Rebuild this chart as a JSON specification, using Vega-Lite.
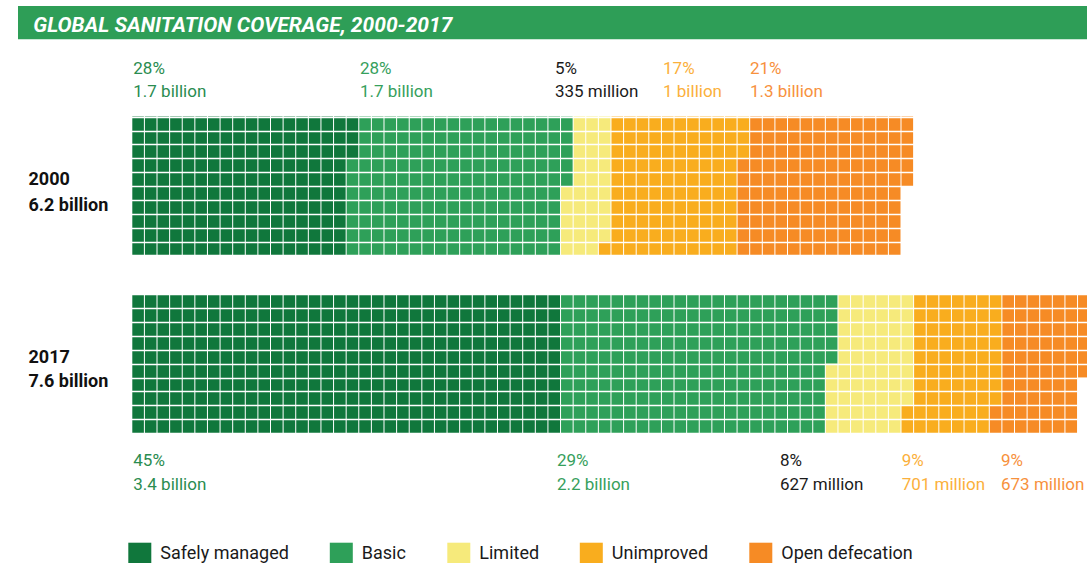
{
  "$schema": "https://vega.github.io/schema/vega-lite/v6.json",
  "background": "white",
  "padding": {"left": 18, "top": 6, "right": 0, "bottom": 0},
  "spacing": 10,
  "config": {"view": {"stroke": null}, "font": "Roboto"},
  "resolve": {"scale": {"x": "independent", "y": "independent"}},
  "datasets": {
    "cells": [
      {"year": "2000", "col": 0, "type": "Safely managed", "r0": 0, "r1": 10},
      {"year": "2000", "col": 1, "type": "Safely managed", "r0": 0, "r1": 10},
      {"year": "2000", "col": 2, "type": "Safely managed", "r0": 0, "r1": 10},
      {"year": "2000", "col": 3, "type": "Safely managed", "r0": 0, "r1": 10},
      {"year": "2000", "col": 4, "type": "Safely managed", "r0": 0, "r1": 10},
      {"year": "2000", "col": 5, "type": "Safely managed", "r0": 0, "r1": 10},
      {"year": "2000", "col": 6, "type": "Safely managed", "r0": 0, "r1": 10},
      {"year": "2000", "col": 7, "type": "Safely managed", "r0": 0, "r1": 10},
      {"year": "2000", "col": 8, "type": "Safely managed", "r0": 0, "r1": 10},
      {"year": "2000", "col": 9, "type": "Safely managed", "r0": 0, "r1": 10},
      {"year": "2000", "col": 10, "type": "Safely managed", "r0": 0, "r1": 10},
      {"year": "2000", "col": 11, "type": "Safely managed", "r0": 0, "r1": 10},
      {"year": "2000", "col": 12, "type": "Safely managed", "r0": 0, "r1": 10},
      {"year": "2000", "col": 13, "type": "Safely managed", "r0": 0, "r1": 10},
      {"year": "2000", "col": 14, "type": "Safely managed", "r0": 0, "r1": 10},
      {"year": "2000", "col": 15, "type": "Safely managed", "r0": 0, "r1": 10},
      {"year": "2000", "col": 16, "type": "Safely managed", "r0": 0, "r1": 10},
      {"year": "2000", "col": 17, "type": "Safely managed", "r0": 0, "r1": 3},
      {"year": "2000", "col": 17, "type": "Basic", "r0": 3, "r1": 10},
      {"year": "2000", "col": 18, "type": "Basic", "r0": 0, "r1": 10},
      {"year": "2000", "col": 19, "type": "Basic", "r0": 0, "r1": 10},
      {"year": "2000", "col": 20, "type": "Basic", "r0": 0, "r1": 10},
      {"year": "2000", "col": 21, "type": "Basic", "r0": 0, "r1": 10},
      {"year": "2000", "col": 22, "type": "Basic", "r0": 0, "r1": 10},
      {"year": "2000", "col": 23, "type": "Basic", "r0": 0, "r1": 10},
      {"year": "2000", "col": 24, "type": "Basic", "r0": 0, "r1": 10},
      {"year": "2000", "col": 25, "type": "Basic", "r0": 0, "r1": 10},
      {"year": "2000", "col": 26, "type": "Basic", "r0": 0, "r1": 10},
      {"year": "2000", "col": 27, "type": "Basic", "r0": 0, "r1": 10},
      {"year": "2000", "col": 28, "type": "Basic", "r0": 0, "r1": 10},
      {"year": "2000", "col": 29, "type": "Basic", "r0": 0, "r1": 10},
      {"year": "2000", "col": 30, "type": "Basic", "r0": 0, "r1": 10},
      {"year": "2000", "col": 31, "type": "Basic", "r0": 0, "r1": 10},
      {"year": "2000", "col": 32, "type": "Basic", "r0": 0, "r1": 10},
      {"year": "2000", "col": 33, "type": "Basic", "r0": 0, "r1": 10},
      {"year": "2000", "col": 34, "type": "Basic", "r0": 0, "r1": 5},
      {"year": "2000", "col": 34, "type": "Limited", "r0": 5, "r1": 10},
      {"year": "2000", "col": 35, "type": "Limited", "r0": 0, "r1": 10},
      {"year": "2000", "col": 36, "type": "Limited", "r0": 0, "r1": 10},
      {"year": "2000", "col": 37, "type": "Limited", "r0": 0, "r1": 9},
      {"year": "2000", "col": 37, "type": "Unimproved", "r0": 9, "r1": 10},
      {"year": "2000", "col": 38, "type": "Unimproved", "r0": 0, "r1": 10},
      {"year": "2000", "col": 39, "type": "Unimproved", "r0": 0, "r1": 10},
      {"year": "2000", "col": 40, "type": "Unimproved", "r0": 0, "r1": 10},
      {"year": "2000", "col": 41, "type": "Unimproved", "r0": 0, "r1": 10},
      {"year": "2000", "col": 42, "type": "Unimproved", "r0": 0, "r1": 10},
      {"year": "2000", "col": 43, "type": "Unimproved", "r0": 0, "r1": 10},
      {"year": "2000", "col": 44, "type": "Unimproved", "r0": 0, "r1": 10},
      {"year": "2000", "col": 45, "type": "Unimproved", "r0": 0, "r1": 10},
      {"year": "2000", "col": 46, "type": "Unimproved", "r0": 0, "r1": 10},
      {"year": "2000", "col": 47, "type": "Unimproved", "r0": 0, "r1": 10},
      {"year": "2000", "col": 48, "type": "Unimproved", "r0": 0, "r1": 3},
      {"year": "2000", "col": 48, "type": "Open defecation", "r0": 3, "r1": 10},
      {"year": "2000", "col": 49, "type": "Open defecation", "r0": 0, "r1": 10},
      {"year": "2000", "col": 50, "type": "Open defecation", "r0": 0, "r1": 10},
      {"year": "2000", "col": 51, "type": "Open defecation", "r0": 0, "r1": 10},
      {"year": "2000", "col": 52, "type": "Open defecation", "r0": 0, "r1": 10},
      {"year": "2000", "col": 53, "type": "Open defecation", "r0": 0, "r1": 10},
      {"year": "2000", "col": 54, "type": "Open defecation", "r0": 0, "r1": 10},
      {"year": "2000", "col": 55, "type": "Open defecation", "r0": 0, "r1": 10},
      {"year": "2000", "col": 56, "type": "Open defecation", "r0": 0, "r1": 10},
      {"year": "2000", "col": 57, "type": "Open defecation", "r0": 0, "r1": 10},
      {"year": "2000", "col": 58, "type": "Open defecation", "r0": 0, "r1": 10},
      {"year": "2000", "col": 59, "type": "Open defecation", "r0": 0, "r1": 10},
      {"year": "2000", "col": 60, "type": "Open defecation", "r0": 0, "r1": 10},
      {"year": "2000", "col": 61, "type": "Open defecation", "r0": 0, "r1": 5},
      {"year": "2017", "col": 0, "type": "Safely managed", "r0": 0, "r1": 10},
      {"year": "2017", "col": 1, "type": "Safely managed", "r0": 0, "r1": 10},
      {"year": "2017", "col": 2, "type": "Safely managed", "r0": 0, "r1": 10},
      {"year": "2017", "col": 3, "type": "Safely managed", "r0": 0, "r1": 10},
      {"year": "2017", "col": 4, "type": "Safely managed", "r0": 0, "r1": 10},
      {"year": "2017", "col": 5, "type": "Safely managed", "r0": 0, "r1": 10},
      {"year": "2017", "col": 6, "type": "Safely managed", "r0": 0, "r1": 10},
      {"year": "2017", "col": 7, "type": "Safely managed", "r0": 0, "r1": 10},
      {"year": "2017", "col": 8, "type": "Safely managed", "r0": 0, "r1": 10},
      {"year": "2017", "col": 9, "type": "Safely managed", "r0": 0, "r1": 10},
      {"year": "2017", "col": 10, "type": "Safely managed", "r0": 0, "r1": 10},
      {"year": "2017", "col": 11, "type": "Safely managed", "r0": 0, "r1": 10},
      {"year": "2017", "col": 12, "type": "Safely managed", "r0": 0, "r1": 10},
      {"year": "2017", "col": 13, "type": "Safely managed", "r0": 0, "r1": 10},
      {"year": "2017", "col": 14, "type": "Safely managed", "r0": 0, "r1": 10},
      {"year": "2017", "col": 15, "type": "Safely managed", "r0": 0, "r1": 10},
      {"year": "2017", "col": 16, "type": "Safely managed", "r0": 0, "r1": 10},
      {"year": "2017", "col": 17, "type": "Safely managed", "r0": 0, "r1": 10},
      {"year": "2017", "col": 18, "type": "Safely managed", "r0": 0, "r1": 10},
      {"year": "2017", "col": 19, "type": "Safely managed", "r0": 0, "r1": 10},
      {"year": "2017", "col": 20, "type": "Safely managed", "r0": 0, "r1": 10},
      {"year": "2017", "col": 21, "type": "Safely managed", "r0": 0, "r1": 10},
      {"year": "2017", "col": 22, "type": "Safely managed", "r0": 0, "r1": 10},
      {"year": "2017", "col": 23, "type": "Safely managed", "r0": 0, "r1": 10},
      {"year": "2017", "col": 24, "type": "Safely managed", "r0": 0, "r1": 10},
      {"year": "2017", "col": 25, "type": "Safely managed", "r0": 0, "r1": 10},
      {"year": "2017", "col": 26, "type": "Safely managed", "r0": 0, "r1": 10},
      {"year": "2017", "col": 27, "type": "Safely managed", "r0": 0, "r1": 10},
      {"year": "2017", "col": 28, "type": "Safely managed", "r0": 0, "r1": 10},
      {"year": "2017", "col": 29, "type": "Safely managed", "r0": 0, "r1": 10},
      {"year": "2017", "col": 30, "type": "Safely managed", "r0": 0, "r1": 10},
      {"year": "2017", "col": 31, "type": "Safely managed", "r0": 0, "r1": 10},
      {"year": "2017", "col": 32, "type": "Safely managed", "r0": 0, "r1": 10},
      {"year": "2017", "col": 33, "type": "Safely managed", "r0": 0, "r1": 10},
      {"year": "2017", "col": 34, "type": "Basic", "r0": 0, "r1": 10},
      {"year": "2017", "col": 35, "type": "Basic", "r0": 0, "r1": 10},
      {"year": "2017", "col": 36, "type": "Basic", "r0": 0, "r1": 10},
      {"year": "2017", "col": 37, "type": "Basic", "r0": 0, "r1": 10},
      {"year": "2017", "col": 38, "type": "Basic", "r0": 0, "r1": 10},
      {"year": "2017", "col": 39, "type": "Basic", "r0": 0, "r1": 10},
      {"year": "2017", "col": 40, "type": "Basic", "r0": 0, "r1": 10},
      {"year": "2017", "col": 41, "type": "Basic", "r0": 0, "r1": 10},
      {"year": "2017", "col": 42, "type": "Basic", "r0": 0, "r1": 10},
      {"year": "2017", "col": 43, "type": "Basic", "r0": 0, "r1": 10},
      {"year": "2017", "col": 44, "type": "Basic", "r0": 0, "r1": 10},
      {"year": "2017", "col": 45, "type": "Basic", "r0": 0, "r1": 10},
      {"year": "2017", "col": 46, "type": "Basic", "r0": 0, "r1": 10},
      {"year": "2017", "col": 47, "type": "Basic", "r0": 0, "r1": 10},
      {"year": "2017", "col": 48, "type": "Basic", "r0": 0, "r1": 10},
      {"year": "2017", "col": 49, "type": "Basic", "r0": 0, "r1": 10},
      {"year": "2017", "col": 50, "type": "Basic", "r0": 0, "r1": 10},
      {"year": "2017", "col": 51, "type": "Basic", "r0": 0, "r1": 10},
      {"year": "2017", "col": 52, "type": "Basic", "r0": 0, "r1": 10},
      {"year": "2017", "col": 53, "type": "Basic", "r0": 0, "r1": 10},
      {"year": "2017", "col": 54, "type": "Basic", "r0": 0, "r1": 10},
      {"year": "2017", "col": 55, "type": "Basic", "r0": 0, "r1": 5},
      {"year": "2017", "col": 55, "type": "Limited", "r0": 5, "r1": 10},
      {"year": "2017", "col": 56, "type": "Limited", "r0": 0, "r1": 10},
      {"year": "2017", "col": 57, "type": "Limited", "r0": 0, "r1": 10},
      {"year": "2017", "col": 58, "type": "Limited", "r0": 0, "r1": 10},
      {"year": "2017", "col": 59, "type": "Limited", "r0": 0, "r1": 10},
      {"year": "2017", "col": 60, "type": "Limited", "r0": 0, "r1": 10},
      {"year": "2017", "col": 61, "type": "Limited", "r0": 0, "r1": 8},
      {"year": "2017", "col": 61, "type": "Unimproved", "r0": 8, "r1": 10},
      {"year": "2017", "col": 62, "type": "Unimproved", "r0": 0, "r1": 10},
      {"year": "2017", "col": 63, "type": "Unimproved", "r0": 0, "r1": 10},
      {"year": "2017", "col": 64, "type": "Unimproved", "r0": 0, "r1": 10},
      {"year": "2017", "col": 65, "type": "Unimproved", "r0": 0, "r1": 10},
      {"year": "2017", "col": 66, "type": "Unimproved", "r0": 0, "r1": 10},
      {"year": "2017", "col": 67, "type": "Unimproved", "r0": 0, "r1": 10},
      {"year": "2017", "col": 68, "type": "Unimproved", "r0": 0, "r1": 8},
      {"year": "2017", "col": 68, "type": "Open defecation", "r0": 8, "r1": 10},
      {"year": "2017", "col": 69, "type": "Open defecation", "r0": 0, "r1": 10},
      {"year": "2017", "col": 70, "type": "Open defecation", "r0": 0, "r1": 10},
      {"year": "2017", "col": 71, "type": "Open defecation", "r0": 0, "r1": 10},
      {"year": "2017", "col": 72, "type": "Open defecation", "r0": 0, "r1": 10},
      {"year": "2017", "col": 73, "type": "Open defecation", "r0": 0, "r1": 10},
      {"year": "2017", "col": 74, "type": "Open defecation", "r0": 0, "r1": 10},
      {"year": "2017", "col": 75, "type": "Open defecation", "r0": 0, "r1": 6}
    ]
  },
  "vconcat": [
    {
      "width": 1069,
      "height": 33.3,
      "view": {"fill": "#2e9e57", "stroke": null},
      "data": {"values": [{"title": "GLOBAL SANITATION COVERAGE, 2000-2017"}]},
      "mark": {"type": "text", "align": "left", "baseline": "alphabetic", "dx": 15.3, "dy": -7.6, "fontSize": 21, "fontWeight": "bold", "fontStyle": "italic", "color": "white"},
      "encoding": {
        "x": {"datum": 0, "type": "quantitative", "scale": {"domain": [0, 1], "nice": false, "padding": 0}, "axis": null},
        "y": {"datum": 0, "type": "quantitative", "scale": {"domain": [0, 1], "nice": false, "padding": 0}, "axis": null},
        "text": {"field": "title"}
      }
    },
    {
      "width": 1069,
      "height": 209.59,
      "layer": [
        {
          "data": {"name": "cells"},
          "transform": [{"filter": "datum.year === '2000'"}],
          "mark": {"type": "bar", "orient": "vertical", "width": 11.6},
          "encoding": {
            "x": {"field": "col", "type": "quantitative", "scale": {"domain": [-9.524, 75.25], "nice": false, "zero": false, "padding": 0}, "axis": null},
            "y": {
              "field": "r0", "type": "quantitative",
              "scale": {"domain": [-4.8, 10.3], "reverse": true, "nice": false, "zero": false, "padding": 0},
              "axis": {
                "title": ["2000", "6.2 billion"], "orient": "left", "labels": false, "ticks": false, "domain": false,
                "grid": true, "gridColor": "white", "gridWidth": 1.3, "gridOpacity": 1,
                "values": [0, 1, 2, 3, 4, 5, 6, 7, 8, 9, 10], "tickCount": 30, "zindex": 1, "minExtent": 0,
                "titleAngle": 0, "titleAlign": "left", "titleBaseline": "alphabetic", "titleX": 10, "titleY": 134,
                "titleFontSize": 18, "titleFontWeight": "bold", "titleColor": "#111111", "titleLineHeight": 26, "titlePadding": 0
              }
            },
            "y2": {"field": "r1"},
            "color": {
              "field": "type", "type": "nominal",
              "scale": {"domain": ["Safely managed", "Basic", "Limited", "Unimproved", "Open defecation"], "range": ["#10773c", "#2ea059", "#f6ea7b", "#f9ad1e", "#f68b25"]},
              "legend": {"title": null, "orient": "none", "legendX": 110.3, "legendY": 536.7, "direction": "horizontal", "symbolType": "square", "symbolSize": 529, "symbolStrokeWidth": 0, "symbolOpacity": 1, "labelFontSize": 18, "labelColor": "#1a1a1a", "labelOffset": 9, "columnPadding": 40.5, "labelFont": "Roboto"}
            }
          }
        },
        {
          "data": {"values": [{"label": ["28%", "1.7 billion"]}]},
          "mark": {"type": "text", "align": "left", "baseline": "alphabetic", "fontSize": 17, "lineHeight": 22.4, "color": "#2a8c50"},
          "encoding": {"x": {"datum": -0.38}, "y": {"datum": -3.056}, "text": {"field": "label"}}
        },
        {
          "data": {"values": [{"label": ["28%", "1.7 billion"]}]},
          "mark": {"type": "text", "align": "left", "baseline": "alphabetic", "fontSize": 17, "lineHeight": 22.4, "color": "#36a05c"},
          "encoding": {"x": {"datum": 17.59}, "y": {"datum": -3.056}, "text": {"field": "label"}}
        },
        {
          "data": {"values": [{"label": ["5%", "335 million"]}]},
          "mark": {"type": "text", "align": "left", "baseline": "alphabetic", "fontSize": 17, "lineHeight": 22.4, "color": "#1a1a1a"},
          "encoding": {"x": {"datum": 33.06}, "y": {"datum": -3.056}, "text": {"field": "label"}}
        },
        {
          "data": {"values": [{"label": ["17%", "1 billion"]}]},
          "mark": {"type": "text", "align": "left", "baseline": "alphabetic", "fontSize": 17, "lineHeight": 22.4, "color": "#fbb03b"},
          "encoding": {"x": {"datum": 41.63}, "y": {"datum": -3.056}, "text": {"field": "label"}}
        },
        {
          "data": {"values": [{"label": ["21%", "1.3 billion"]}]},
          "mark": {"type": "text", "align": "left", "baseline": "alphabetic", "fontSize": 17, "lineHeight": 22.4, "color": "#f7913d"},
          "encoding": {"x": {"datum": 48.52}, "y": {"datum": -3.056}, "text": {"field": "label"}}
        }
      ]
    },
    {
      "width": 1069,
      "height": 225.55,
      "layer": [
        {
          "data": {"name": "cells"},
          "transform": [{"filter": "datum.year === '2017'"}],
          "mark": {"type": "bar", "orient": "vertical", "width": 11.6},
          "encoding": {
            "x": {"field": "col", "type": "quantitative", "scale": {"domain": [-9.524, 75.25], "nice": false, "zero": false, "padding": 0}, "axis": null},
            "y": {
              "field": "r0", "type": "quantitative",
              "scale": {"domain": [-1.75, 14.5], "reverse": true, "nice": false, "zero": false, "padding": 0},
              "axis": {
                "title": ["2017", "7.6 billion"], "orient": "left", "labels": false, "ticks": false, "domain": false,
                "grid": true, "gridColor": "white", "gridWidth": 1.3, "gridOpacity": 1,
                "values": [0, 1, 2, 3, 4, 5, 6, 7, 8, 9, 10], "tickCount": 30, "zindex": 1, "minExtent": 0,
                "titleAngle": 0, "titleAlign": "left", "titleBaseline": "alphabetic", "titleX": 10, "titleY": 92.1,
                "titleFontSize": 18, "titleFontWeight": "bold", "titleColor": "#111111", "titleLineHeight": 24, "titlePadding": 0
              }
            },
            "y2": {"field": "r1"},
            "color": {
              "field": "type", "type": "nominal",
              "scale": {"domain": ["Safely managed", "Basic", "Limited", "Unimproved", "Open defecation"], "range": ["#10773c", "#2ea059", "#f6ea7b", "#f9ad1e", "#f68b25"]},
              "legend": {"title": null, "orient": "none", "legendX": 110.3, "legendY": 536.7, "direction": "horizontal", "symbolType": "square", "symbolSize": 529, "symbolStrokeWidth": 0, "symbolOpacity": 1, "labelFontSize": 18, "labelColor": "#1a1a1a", "labelOffset": 9, "columnPadding": 40.5, "labelFont": "Roboto"}
            }
          }
        },
        {
          "data": {"values": [{"label": ["45%", "3.4 billion"]}]},
          "mark": {"type": "text", "align": "left", "baseline": "alphabetic", "fontSize": 17, "lineHeight": 24.3, "color": "#2a8c50"},
          "encoding": {"x": {"datum": -0.38}, "y": {"datum": 12.378}, "text": {"field": "label"}}
        },
        {
          "data": {"values": [{"label": ["29%", "2.2 billion"]}]},
          "mark": {"type": "text", "align": "left", "baseline": "alphabetic", "fontSize": 17, "lineHeight": 24.3, "color": "#36a05c"},
          "encoding": {"x": {"datum": 33.22}, "y": {"datum": 12.378}, "text": {"field": "label"}}
        },
        {
          "data": {"values": [{"label": ["8%", "627 million"]}]},
          "mark": {"type": "text", "align": "left", "baseline": "alphabetic", "fontSize": 17, "lineHeight": 24.3, "color": "#1a1a1a"},
          "encoding": {"x": {"datum": 50.9}, "y": {"datum": 12.378}, "text": {"field": "label"}}
        },
        {
          "data": {"values": [{"label": ["9%", "701 million"]}]},
          "mark": {"type": "text", "align": "left", "baseline": "alphabetic", "fontSize": 17, "lineHeight": 24.3, "color": "#fbb03b"},
          "encoding": {"x": {"datum": 60.55}, "y": {"datum": 12.378}, "text": {"field": "label"}}
        },
        {
          "data": {"values": [{"label": ["9%", "673 million"]}]},
          "mark": {"type": "text", "align": "left", "baseline": "alphabetic", "fontSize": 17, "lineHeight": 24.3, "color": "#f7913d"},
          "encoding": {"x": {"datum": 68.43}, "y": {"datum": 12.378}, "text": {"field": "label"}}
        }
      ]
    }
  ]
}
